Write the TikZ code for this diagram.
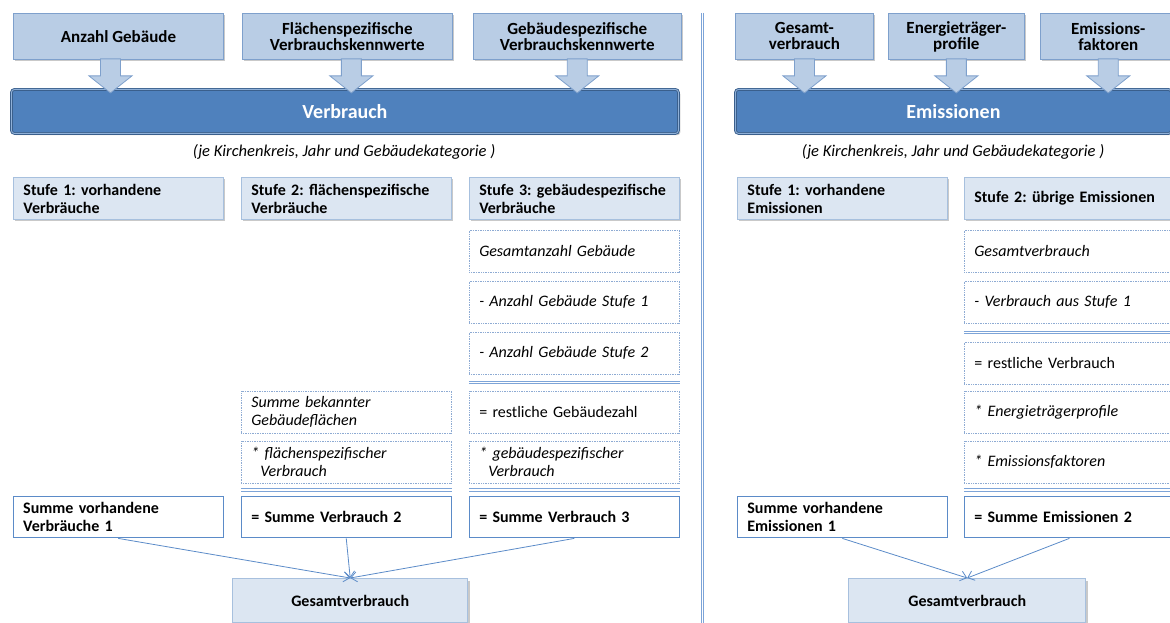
\documentclass[tikz,border=0pt]{standalone}
\usepackage{fontspec}
\setmainfont{Carlito}
\usepackage{tikz}
\usetikzlibrary{arrows.meta,positioning,calc,shadows}
\frenchspacing

\definecolor{topfill}{HTML}{B9CDE5}
\definecolor{topline}{HTML}{7EA0CC}
\definecolor{stufefill}{HTML}{DCE6F2}
\definecolor{stufeline}{HTML}{A7C0DE}
\definecolor{barfill}{HTML}{4F81BD}
\definecolor{barline}{HTML}{3A5F8C}
\definecolor{barlight}{HTML}{8FB0D8}
\definecolor{dotline}{HTML}{8EABD3}
\definecolor{sepcol}{HTML}{7DA4D8}
\definecolor{sumline}{HTML}{5B8BC8}
\definecolor{linkcol}{HTML}{5B8BC8}

\tikzset{
  downarrow/.pic={\draw[draw=topline, fill=topfill, line width=0.8pt] (-10,-1) -- (10,-1) -- (10,16) -- (21.5,16) -- (0,33) -- (-21.5,16) -- (-10,16) -- cycle;}
}

\begin{document}
\begin{tikzpicture}[x=1pt, y=-1pt, node distance=8pt and 17pt, every node/.style={inner sep=0pt}]
\tikzstyle{shade}=[drop shadow={shadow xshift=1.8pt, shadow yshift=-1.8pt, opacity=0.3, fill=black!70}]
\tikzstyle{inbox}=[draw=topline, line width=0.9pt, fill=topfill, shade, align=center, minimum height=46pt, font=\fontsize{17}{16}\selectfont\bfseries]
\tikzstyle{bar}=[draw=barline, double=barlight, double distance=0.9pt, line width=0.9pt, rounded corners=3pt, fill=barfill, shade, minimum height=44pt, text=white, font=\fontsize{20}{22}\selectfont\bfseries]
\tikzstyle{note}=[font=\fontsize{16.5}{18}\selectfont\itshape]
\tikzstyle{stufe}=[draw=stufeline, line width=0.9pt, fill=stufefill, shade, align=left, text width=190pt, inner xsep=10pt, minimum height=42pt, font=\fontsize{16}{18}\selectfont\bfseries]
\tikzstyle{dotbox}=[draw=dotline, line width=0.9pt, dash pattern=on 1pt off 0.7pt, fill=white, align=left, text width=190pt, inner xsep=10pt, minimum height=42pt, font=\fontsize{16}{18}\selectfont\itshape]
\tikzstyle{plainbox}=[dotbox, font=\fontsize{16}{18}\selectfont\upshape]
\tikzstyle{sumbox}=[draw=sumline, line width=1pt, fill=white, align=left, text width=190pt, inner xsep=10pt, minimum height=41pt, font=\fontsize{16}{18}\selectfont\bfseries]
\tikzstyle{total}=[draw=stufeline, line width=1.4pt, fill=stufefill, shade, align=center, minimum height=44pt, font=\fontsize{16}{18}\selectfont\bfseries]
\tikzstyle{sepline}=[draw=sepcol, line width=1pt, double=white, double distance=1.4pt]
\tikzstyle{link}=[draw=linkcol, line width=0.8pt, -{Straight Barb[length=6pt, width=10pt]}]
\useasboundingbox (0,0) rectangle (1170,623);

% divider
\draw[sepline, double distance=1.8pt] (702.5,13) -- (702.5,625);

% --- Verbrauch
\node[inbox, minimum width=210pt, anchor=north west] (in1) at (13,13) {Anzahl Gebäude};
\node[inbox, minimum width=210pt, right=18pt of in1] (in2) {Flächenspezifische\\Verbrauchskennwerte};
\node[inbox, minimum width=208pt, right=20pt of in2] (in3) {Gebäudespezifische\\Verbrauchskennwerte};
\node[bar, minimum width=667pt, anchor=north west] (verb) at (11,89) {Verbrauch};
\pic at ([xshift=-8pt]in1.south) {downarrow};
\pic at ([xshift=4pt]in2.south) {downarrow};
\pic at (in3.south) {downarrow};
\node[note] (note1) at (344,152) {(je Kirchenkreis, Jahr und Gebäudekategorie )};

\node[stufe, anchor=north west] (s1) at (13,177) {Stufe 1: vorhandene\\Verbräuche};
\node[stufe, right=17pt of s1] (s2) {Stufe 2: flächenspezifische\\Verbräuche};
\node[stufe, right=17pt of s2] (s3) {Stufe 3: gebäudespezifische\\Verbräuche};

\node[dotbox, below=10pt of s3] (ga) {Gesamtanzahl Gebäude};
\node[dotbox, below=8pt of ga] (gb) {- Anzahl Gebäude Stufe 1};
\node[dotbox, below=8pt of gb] (gc) {- Anzahl Gebäude Stufe 2};
\node[plainbox, below=16pt of gc] (gd) {= restliche Gebäudezahl};
\node[dotbox, below=7pt of gd] (ge) {*~gebäudespezifischer\\\hspace*{9pt}Verbrauch};
\node[sumbox, below=13pt of ge] (sum3) {= Summe Verbrauch 3};
\node[dotbox, left=17pt of gd] (fa) {Summe bekannter\\Gebäudeflächen};
\node[dotbox, left=17pt of ge] (fb) {*~flächenspezifischer\\\hspace*{9pt}Verbrauch};
\node[sumbox, left=17pt of sum3] (sum2) {= Summe Verbrauch 2};
\node[sumbox, left=17pt of sum2] (sum1) {Summe vorhandene\\Verbräuche 1};
\node[total, minimum width=235pt, anchor=north west] (gv1) at (232,578) {Gesamtverbrauch};

\draw[sepline] ($(gc.south west)!.5!(gd.north west)$) -- ($(gc.south east)!.5!(gd.north east)$);
\draw[sepline] ($(ge.south west)!.5!(sum3.north west)$) -- ($(ge.south east)!.5!(sum3.north east)$);
\draw[sepline] ($(fb.south west)!.5!(sum2.north west)$) -- ($(fb.south east)!.5!(sum2.north east)$);

\draw[link] (sum1.south) -- (gv1.north);
\draw[link] (sum2.south) -- (gv1.north);
\draw[link] (sum3.south) -- (gv1.north);

% --- Emissionen
\node[inbox, minimum width=138pt, anchor=north west] (in4) at (735,13) {Gesamt-\\verbrauch};
\node[inbox, minimum width=136pt, right=14pt of in4] (in5) {Energieträger-\\profile};
\node[inbox, minimum width=136pt, right=15pt of in5] (in6) {Emissions-\\faktoren};
\node[bar, minimum width=436pt, anchor=north west] (emis) at (735,89) {Emissionen};
\pic at (in4.south) {downarrow};
\pic at (in5.south) {downarrow};
\pic at (in6.south) {downarrow};
\node[note] (note2) at (953,152) {(je Kirchenkreis, Jahr und Gebäudekategorie )};

\node[stufe, anchor=north west] (t1) at (737,177) {Stufe 1: vorhandene\\Emissionen};
\node[stufe, right=16pt of t1] (t2) {Stufe 2: übrige Emissionen};

\node[dotbox, below=10pt of t2] (ra) {Gesamtverbrauch};
\node[dotbox, below=8pt of ra] (rb) {- Verbrauch aus Stufe 1};
\node[plainbox, below=18pt of rb] (rc) {= restliche Verbrauch};
\node[dotbox, below=6pt of rc] (rd) {*~Energieträgerprofile};
\node[dotbox, below=7pt of rd] (re) {*~Emissionsfaktoren};
\node[sumbox, below=13pt of re] (sum5) {= Summe Emissionen 2};
\node[sumbox, left=16pt of sum5] (sum4) {Summe vorhandene\\Emissionen 1};
\node[total, minimum width=237pt, anchor=north west] (gv2) at (848,578) {Gesamtverbrauch};

\draw[sepline] ($(rb.south west)!.5!(rc.north west)$) -- ($(rb.south east)!.5!(rc.north east)$);
\draw[sepline] ($(re.south west)!.5!(sum5.north west)$) -- ($(re.south east)!.5!(sum5.north east)$);

\draw[link] (sum4.south) -- (gv2.north);
\draw[link] (sum5.south) -- (gv2.north);
\end{tikzpicture}
\end{document}
